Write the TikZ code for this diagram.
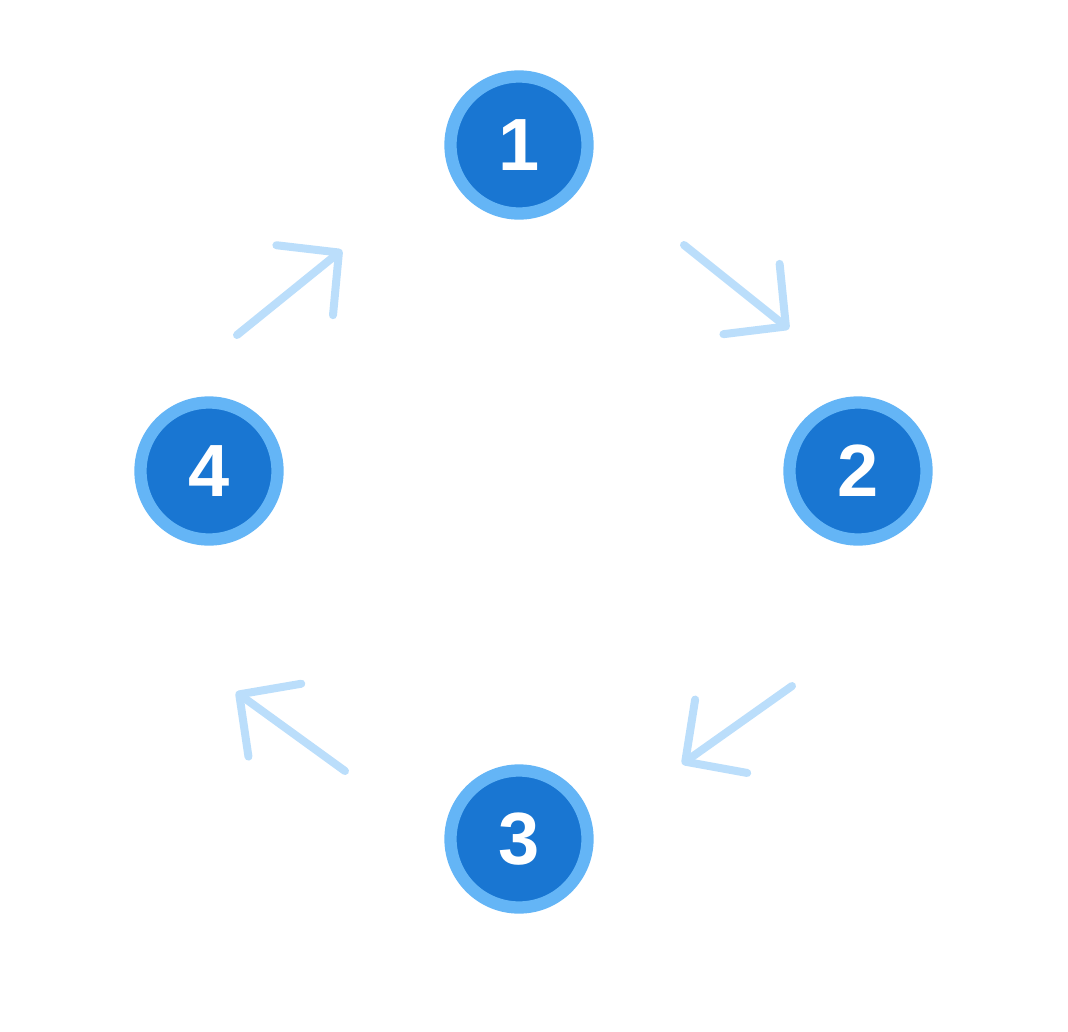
\documentclass[tikz,border=0pt]{standalone}
\usepackage{fontspec}
\setmainfont{Liberation Sans}
\usetikzlibrary{arrows.meta}
\definecolor{ringblue}{HTML}{64B5F6}
\definecolor{fillblue}{HTML}{1976D2}
\definecolor{arrowblue}{HTML}{BBDEFB}
\begin{document}
\begin{tikzpicture}[
    x=1pt, y=-1pt,
    every node/.style={
        circle,
        draw=ringblue,
        fill=fillblue,
        line width=12.3pt,
        minimum size=137pt,
        inner sep=0pt,
        text=white,
        font=\fontsize{74}{74}\selectfont\bfseries
    }
]
\useasboundingbox (0,0) rectangle (1068,1031);

% 노드
\node (1) at (519,145) {1};
\node (2) at (858,471) {2};
\node (3) at (519,839) {3};
\node (4) at (209,471) {4};

% 화살표 끝점
\coordinate (a12) at (684,245);
\coordinate (b12) at (789,329);
\coordinate (a23) at (792,686);
\coordinate (b23) at (682,764);
\coordinate (a34) at (345,771);
\coordinate (b34) at (236,692);
\coordinate (a41) at (237,335);
\coordinate (b41) at (342,250);

% 간선
\draw[->, arrowblue, line width=8pt, line cap=round, >={Straight Barb[length=44pt, width=90pt, round]}] (a12) -- (b12);
\draw[->, arrowblue, line width=8pt, line cap=round, >={Straight Barb[length=44pt, width=90pt, round]}] (a23) -- (b23);
\draw[->, arrowblue, line width=8pt, line cap=round, >={Straight Barb[length=44pt, width=90pt, round]}] (a34) -- (b34);
\draw[->, arrowblue, line width=8pt, line cap=round, >={Straight Barb[length=44pt, width=90pt, round]}] (a41) -- (b41);

\end{tikzpicture}
\end{document}
